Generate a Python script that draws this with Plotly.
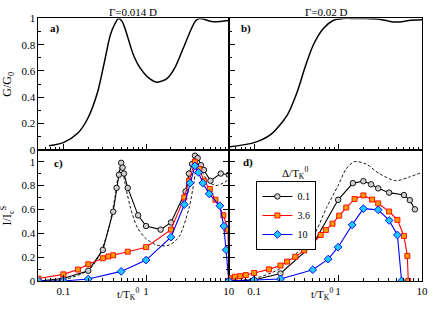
import plotly.graph_objects as go
import math

# ---------------- data ----------------
# panel a: G/G0, Gamma = 0.014 D
t_a = [0.067, 0.1, 0.15, 0.197, 0.258, 0.31, 0.37, 0.42, 0.465, 0.51, 0.556, 0.698, 0.834,
       1.094, 1.37, 1.80, 2.25, 2.83, 3.54, 4.0, 4.44, 5.0, 5.56, 6.67, 8.0, 10.0]
g_a = [0.03, 0.054, 0.127, 0.238, 0.434, 0.654, 0.875, 0.96, 1.0, 0.98, 0.924, 0.728, 0.630,
       0.544, 0.515, 0.544, 0.630, 0.777, 0.924, 0.985, 1.0, 0.995, 0.985, 0.975, 0.978, 0.985]

# panel b: G/G0, Gamma = 0.02 D
t_b = [0.0485, 0.1, 0.157, 0.247, 0.323, 0.405, 0.508, 0.667, 0.873, 1.14, 1.6, 2.15, 3.09,
       4.0, 4.85, 6.0, 6.95, 10.0]
g_b = [0.02, 0.054, 0.115, 0.262, 0.434, 0.63, 0.80, 0.924, 0.985, 1.0, 1.0, 1.0, 0.995,
       0.98, 0.973, 0.978, 0.985, 0.99]

# panel c: I/Ic^S
t_c_k = [0.05, 0.1, 0.2, 0.3, 0.4, 0.44, 0.47, 0.5, 0.52, 0.54, 0.6, 0.8, 1.0, 1.5, 2.0,
         3.0, 3.3, 3.6, 3.9, 4.2, 4.6, 5.0, 6.0, 8.0, 10.0]
i_c_k = [0.0, 0.02, 0.085, 0.26, 0.58, 0.78, 0.89, 0.99, 0.95, 0.9, 0.78, 0.55, 0.46, 0.43, 0.49,
         0.75, 0.9, 0.98, 1.05, 1.03, 0.97, 0.93, 0.84, 0.9, 0.89]
t_c_r = [0.05, 0.1, 0.15, 0.2, 0.3, 0.35, 0.4, 0.6, 1.0, 2.0, 2.9, 3.3, 3.9, 4.4, 5.0, 5.9,
         6.9, 8.6, 9.8, 10.0]
i_c_r = [0.02, 0.055, 0.095, 0.14, 0.19, 0.205, 0.215, 0.245, 0.283, 0.43, 0.70, 0.84, 1.0,
         0.94, 0.84, 0.77, 0.68, 0.55, 0.43, 0.0]
t_c_b = [0.05, 0.1, 0.2, 0.5, 1.0, 2.0, 2.9, 3.4, 3.9, 4.3, 4.85, 5.8, 7.8, 8.7, 9.3, 10.0]
i_c_b = [0.0, 0.0, 0.016, 0.08, 0.175, 0.367, 0.64, 0.82, 0.965, 0.91, 0.82, 0.73, 0.63, 0.46,
         0.26, 0.0]
t_c_d = [0.05, 0.1, 0.2, 0.27, 0.35, 0.42, 0.465, 0.5, 0.57, 0.65, 0.78, 0.98, 1.35, 1.9, 2.5,
         3.3, 3.8, 4.15, 4.7, 5.7, 7.0, 8.5, 10.0]
i_c_d = [0.0, 0.01, 0.09, 0.21, 0.43, 0.70, 0.90, 0.97, 0.78, 0.61, 0.45, 0.36, 0.30, 0.30, 0.37,
         0.61, 0.83, 0.98, 0.92, 0.83, 0.80, 0.82, 0.85]

# panel d
t_d_k = [0.05, 0.1, 0.206, 0.5, 1.0, 1.5, 2.0, 2.47, 3.0, 4.05, 6.08, 7.15, 8.2]
i_d_k = [0.0, 0.008, 0.062, 0.305, 0.68, 0.82, 0.836, 0.81, 0.776, 0.74, 0.72, 0.677, 0.60]
t_d_r = [0.0508, 0.0591, 0.0684, 0.0796, 0.1, 0.15, 0.206, 0.247, 0.309, 0.394, 0.5, 0.62,
         0.715, 0.857, 1.03, 1.25, 1.57, 2.0, 2.54, 3.0, 4.05, 5.08, 6.08, 6.67, 6.84]
i_d_r = [0.022, 0.035, 0.040, 0.049, 0.067, 0.097, 0.129, 0.162, 0.202, 0.256, 0.313, 0.385,
         0.426, 0.48, 0.547, 0.615, 0.687, 0.717, 0.682, 0.65, 0.582, 0.512, 0.377, 0.21, 0.0]
t_d_b = [0.05, 0.1, 0.206, 0.5, 0.762, 1.0, 1.47, 2.0, 3.0, 4.05, 5.08, 5.7]
i_d_b = [0.0, 0.008, 0.016, 0.094, 0.183, 0.283, 0.47, 0.606, 0.596, 0.507, 0.385, 0.0]
t_d_d = [0.05, 0.1, 0.2, 0.295, 0.5, 0.73, 1.0, 1.25, 1.57, 2.15, 3.09, 4.85, 6.95, 10.0]
i_d_d = [0.0, 0.02, 0.10, 0.21, 0.37, 0.615, 0.80, 0.94, 1.0, 0.98, 0.90, 0.84, 0.87, 0.91]

series_names = ["0.1", "3.6", "10"]
panel_titles = ["Γ=0.014 D", "Γ=0.02 D"]
panel_labels = ["a)", "b)", "c)", "d)"]
x_ticks = [0.1, 1, 10]
x_ticklabels = ["0.1", "1", "10"]

# ---------------- figure ----------------
W, H = 436, 310
FONT = "Liberation Serif, Times New Roman, Times, serif"
xL = [39 / W, 232 / W]
xR = [232 / W, 428 / W]
yT = [(H - 149.5) / H, (H - 13) / H]
yB = [(H - 286) / H, (H - 149.5) / H]

fig = go.Figure()

def curve(x, y, xa, ya, dash="solid", width=1.5):
    fig.add_trace(go.Scatter(x=x, y=y, mode="lines", xaxis=xa, yaxis=ya, showlegend=False,
                             line=dict(color="black", width=width, dash=dash, shape="spline",
                                       smoothing=0.8), hoverinfo="skip"))

curve(t_a, g_a, "x", "y")
curve(t_b, g_b, "x2", "y2")
curve(t_c_d, i_c_d, "x3", "y3", dash="3px,2px", width=0.9)
curve(t_d_d, i_d_d, "x4", "y4", dash="3px,2px", width=0.9)

styles = [
    dict(line=dict(color="black", width=1.1),
         marker=dict(symbol="circle", size=5.5, color="#cfcfcf", line=dict(color="black", width=0.9))),
    dict(line=dict(color="#ff0000", width=1.1),
         marker=dict(symbol="square", size=5, color="#ff9a00", line=dict(color="#ff0000", width=0.9))),
    dict(line=dict(color="#0000ff", width=1.1),
         marker=dict(symbol="diamond", size=6, color="#1ec8ff", line=dict(color="#0000ff", width=0.9))),
]

c_sets = [(t_c_k, i_c_k), (t_c_r, i_c_r), (t_c_b, i_c_b)]
d_sets = [(t_d_k, i_d_k), (t_d_r, i_d_r), (t_d_b, i_d_b)]
for k in range(3):
    fig.add_trace(go.Scatter(x=c_sets[k][0], y=c_sets[k][1], mode="lines+markers",
                             xaxis="x3", yaxis="y3", showlegend=False, **styles[k]))
for k in range(3):
    fig.add_trace(go.Scatter(x=d_sets[k][0], y=d_sets[k][1], mode="lines+markers",
                             xaxis="x4", yaxis="y4", name=series_names[k], showlegend=True,
                             **styles[k]))

minor_x = [m * 10 ** e for e in (-2, -1, 0) for m in range(2, 10) if 0.05 <= m * 10 ** e <= 10]

def xax(domain, anchor, labels):
    return dict(type="log", domain=domain, anchor=anchor, range=[math.log10(0.05), 1],
                showline=True, mirror=True, linecolor="black", linewidth=1,
                ticks="inside", ticklen=6, tickwidth=1, tickcolor="black",
                tickvals=x_ticks, ticktext=x_ticklabels, showticklabels=labels,
                minor=dict(tickvals=minor_x, ticks="inside", ticklen=3, tickcolor="black"),
                showgrid=False, zeroline=False,
                tickfont=dict(family=FONT, size=11, color="black"))

def yax(domain, anchor, rng, labels, mirror=True):
    return dict(domain=domain, anchor=anchor, range=rng,
                showline=True, mirror=mirror, linecolor="black", linewidth=1,
                ticks="inside", ticklen=6, tickwidth=1, tickcolor="black",
                tick0=0, dtick=0.2, showticklabels=labels,
                minor=dict(dtick=0.1, ticks="inside", ticklen=3, tickcolor="black"),
                showgrid=False, zeroline=False,
                tickfont=dict(family=FONT, size=11, color="black"))

fig.update_layout(
    width=W, height=H,
    margin=dict(l=0, r=0, t=0, b=0),
    paper_bgcolor="white", plot_bgcolor="white",
    font=dict(family=FONT, size=11, color="black"),
    xaxis=xax(xL, "y", False), yaxis=yax(yT, "x", [0, 1], True),
    xaxis2=xax(xR, "y2", False), yaxis2=yax(yT, "x2", [0, 1], False),
    xaxis3=xax(xL, "y3", True), yaxis3=yax(yB, "x3", [0, 1.1], True, mirror="ticks"),
    xaxis4=xax(xR, "y4", True), yaxis4=yax(yB, "x4", [0, 1.1], False),
    legend=dict(x=260 / W, y=(H - 182) / H, xanchor="left", yanchor="top",
                bordercolor="black", borderwidth=1, bgcolor="white",
                font=dict(family=FONT, size=10), itemwidth=30, tracegroupgap=0),
    showlegend=True,
)

ann = []
ann.append(dict(x=135 / W, y=(H - 6) / H, text=panel_titles[0]))
ann.append(dict(x=331 / W, y=(H - 6) / H, text=panel_titles[1]))
for lab, (px, py) in zip(panel_labels, [(56, 23), (249, 23), (59, 164), (251, 163)]):
    ann.append(dict(x=px / W, y=(H - py) / H, text="<b>%s</b>" % lab))
ann.append(dict(x=8 / W, y=(H - 81) / H, text="G/G<sub>0</sub>", textangle=-90, size=12))
ann.append(dict(x=8 / W, y=(H - 218) / H, text="I/I<sub>c</sub><sup>S</sup>", textangle=-90, size=12))
ann.append(dict(x=299 / W, y=(H - 174) / H, text="Δ/T<sub>K</sub><sup>0</sup>", size=11))

for a in ann:
    size = a.pop("size", 11)
    fig.add_annotation(xref="paper", yref="paper", showarrow=False,
                       xanchor="center", yanchor="middle",
                       font=dict(family=FONT, size=size, color="black"), **a)

# x-axis titles under panels c and d
for xc in (130, 326):
    fig.add_annotation(xref="paper", yref="paper", showarrow=False, x=xc / W, y=0,
                       xanchor="center", yanchor="bottom", text="t/T<sub>K</sub><sup>0</sup>",
                       font=dict(family=FONT, size=11, color="black"))

fig.write_html("out.html", config={"displayModeBar": False},
               post_script="document.body.style.margin='0';document.body.style.padding='0';"
                           "document.body.style.overflow='hidden';")
